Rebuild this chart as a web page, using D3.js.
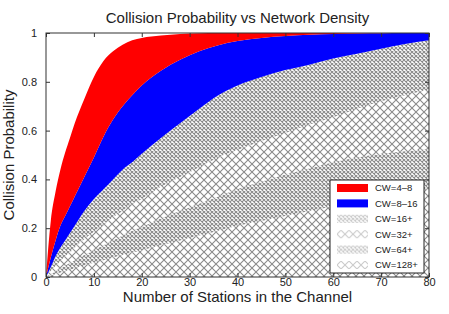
<!DOCTYPE html>
<html>
<head>
<meta charset="utf-8">
<script src="https://cdn.jsdelivr.net/npm/d3@7"></script>
<style>
  body { margin: 0; background: #fff; }
  text { font-family: "Liberation Sans", Arial, sans-serif; fill: #222; }
</style>
</head>
<body>
<div id="chart"></div>
<script>
// Number of stations (x samples)
var stations = [0, 1, 2, 3, 4, 5, 6, 8, 10, 12, 14, 16, 18, 20, 24, 28, 32, 36, 40, 45, 50, 55, 60, 65, 70, 75, 80];

// Collision probability curves, one per contention window
var cw4 = [0, 0.23, 0.35, 0.44, 0.51, 0.57, 0.63, 0.73, 0.82, 0.885, 0.925, 0.952, 0.97, 0.98, 0.99, 0.996, 0.999, 1, 1, 1, 1, 1, 1, 1, 1, 1, 1];
var cw8 = [0, 0.08, 0.15, 0.21, 0.25, 0.29, 0.33, 0.41, 0.49, 0.575, 0.645, 0.70, 0.745, 0.785, 0.845, 0.89, 0.925, 0.95, 0.967, 0.98, 0.988, 0.993, 0.996, 0.998, 0.999, 1, 1];
var cw16 = [0, 0.04, 0.085, 0.12, 0.15, 0.18, 0.21, 0.27, 0.32, 0.36, 0.40, 0.44, 0.47, 0.505, 0.57, 0.63, 0.69, 0.745, 0.785, 0.82, 0.848, 0.87, 0.895, 0.915, 0.935, 0.955, 0.97];
var cw32 = [0, 0.025, 0.045, 0.065, 0.085, 0.10, 0.12, 0.155, 0.185, 0.215, 0.245, 0.27, 0.30, 0.32, 0.37, 0.41, 0.45, 0.49, 0.52, 0.557, 0.59, 0.625, 0.655, 0.69, 0.72, 0.745, 0.768];
var cw64 = [0, 0.012, 0.024, 0.035, 0.046, 0.057, 0.068, 0.09, 0.11, 0.13, 0.15, 0.17, 0.19, 0.205, 0.24, 0.27, 0.30, 0.33, 0.36, 0.39, 0.42, 0.445, 0.47, 0.49, 0.505, 0.515, 0.525];
var cw128 = [0, 0.006, 0.012, 0.018, 0.024, 0.03, 0.036, 0.047, 0.058, 0.069, 0.08, 0.09, 0.10, 0.11, 0.13, 0.15, 0.17, 0.19, 0.21, 0.23, 0.25, 0.27, 0.29, 0.31, 0.33, 0.345, 0.36];
var zeros = stations.map(function() { return 0; });

// Bands (lower curve, upper curve) and legend labels
var bandLabels = ["CW=4\u20138", "CW=8\u201316", "CW=16+", "CW=32+", "CW=64+", "CW=128+"];
var bandLower = [cw8, cw16, cw32, cw64, cw128, zeros];
var bandUpper = [cw4, cw8, cw16, cw32, cw64, cw128];
var bandFill = ["#ff0000", "#0000ff", "url(#dense)", "url(#open)", "url(#dense)", "url(#open)"];

var xTicks = [0, 10, 20, 30, 40, 50, 60, 70, 80];
var yTicks = [0, 0.2, 0.4, 0.6, 0.8, 1];

var width = 449, height = 314;
var margin = { top: 33, right: 20, bottom: 37, left: 46 };

var svg = d3.select("#chart")
    .append("svg")
    .attr("width", width)
    .attr("height", height);

// Hatch patterns
var defs = svg.append("defs");
defs.append("pattern")
    .attr("id", "dense")
    .attr("patternUnits", "userSpaceOnUse")
    .attr("width", 4).attr("height", 4)
    .append("path")
    .attr("d", "M0,0L4,4M4,0L0,4")
    .attr("stroke", "#8a8a8a")
    .attr("stroke-width", 1.1)
    .attr("fill", "none");
defs.append("pattern")
    .attr("id", "open")
    .attr("patternUnits", "userSpaceOnUse")
    .attr("width", 8).attr("height", 8)
    .append("path")
    .attr("d", "M0,0L8,8M8,0L0,8")
    .attr("stroke", "#8a8a8a")
    .attr("stroke-width", 1.1)
    .attr("fill", "none");
defs.append("clipPath")
    .attr("id", "plotclip")
    .append("rect")
    .attr("x", margin.left).attr("y", margin.top)
    .attr("width", width - margin.left - margin.right)
    .attr("height", height - margin.top - margin.bottom);

var x = d3.scaleLinear()
    .domain([0, 80])
    .range([margin.left, width - margin.right]);

var y = d3.scaleLinear()
    .domain([0, 1])
    .range([height - margin.bottom, margin.top]);

// Filled bands, drawn bottom band first
var area = d3.area()
    .curve(d3.curveMonotoneX)
    .x(function(d) { return x(d.n); })
    .y0(function(d) { return y(d.lo); })
    .y1(function(d) { return y(d.hi); });

var plot = svg.append("g").attr("clip-path", "url(#plotclip)");
for (var b = bandLabels.length - 1; b >= 0; b--) {
    var rows = stations.map(function(n, i) {
        return { n: n, lo: bandLower[b][i], hi: bandUpper[b][i] };
    });
    plot.append("path")
        .datum(rows)
        .attr("fill", bandFill[b])
        .attr("d", area);
}

// Axes with inward ticks, mirrored on top and right
var axisColor = "#333";
var bottomAxis = svg.append("g")
    .attr("transform", "translate(0," + y(0) + ")")
    .call(d3.axisBottom(x).tickValues(xTicks).tickSize(-4).tickPadding(1).tickFormat(d3.format("d")));
var topAxis = svg.append("g")
    .attr("transform", "translate(0," + y(1) + ")")
    .call(d3.axisTop(x).tickValues(xTicks).tickSize(-4).tickFormat(""));
var leftAxis = svg.append("g")
    .attr("transform", "translate(" + x(0) + ",0)")
    .call(d3.axisLeft(y).tickValues(yTicks).tickSize(-4).tickPadding(9).tickFormat(function(d) { return d === 0 || d === 1 ? d : d3.format(".1f")(d); }));
var rightAxis = svg.append("g")
    .attr("transform", "translate(" + x(80) + ",0)")
    .call(d3.axisRight(y).tickValues(yTicks).tickSize(-4).tickFormat(""));

[bottomAxis, topAxis, leftAxis, rightAxis].forEach(function(g) {
    g.selectAll(".domain").remove();
    g.selectAll("line").attr("stroke", axisColor);
    g.selectAll("text").style("font-size", "11px").attr("fill", "#222");
});

// Frame
svg.append("rect")
    .attr("x", x(0)).attr("y", y(1))
    .attr("width", x(80) - x(0))
    .attr("height", y(0) - y(1))
    .attr("fill", "none")
    .attr("stroke", axisColor)
    .attr("stroke-width", 1);

// Title and axis labels
svg.append("text")
    .attr("x", (x(0) + x(80)) / 2)
    .attr("y", 23)
    .attr("text-anchor", "middle")
    .style("font-size", "15px")
    .text("Collision Probability vs Network Density");

svg.append("text")
    .attr("x", (x(0) + x(80)) / 2)
    .attr("y", 302)
    .attr("text-anchor", "middle")
    .style("font-size", "15px")
    .text("Number of Stations in the Channel");

svg.append("text")
    .attr("transform", "translate(14," + ((y(0) + y(1)) / 2) + ") rotate(-90)")
    .attr("text-anchor", "middle")
    .style("font-size", "15px")
    .text("Collision Probability");

// Legend
var legend = svg.append("g").attr("transform", "translate(330,180)");
legend.append("rect")
    .attr("width", 94).attr("height", 93)
    .attr("fill", "#fff")
    .attr("stroke", "#222")
    .attr("stroke-width", 1);

var rowsG = legend.selectAll(".entry")
    .data(bandLabels)
    .enter()
    .append("g")
    .attr("class", "entry")
    .attr("transform", function(d, i) { return "translate(7," + (8 + i * 15.4) + ")"; });

rowsG.append("rect")
    .attr("width", 31).attr("height", 8)
    .attr("y", -4)
    .attr("fill", function(d, i) { return bandFill[i]; })
    .attr("opacity", function(d, i) { return i < 2 ? 1 : 0.45; });

rowsG.append("text")
    .attr("x", 38)
    .attr("y", 0)
    .attr("dy", "0.35em")
    .style("font-size", "9.5px")
    .text(function(d) { return d; });
</script>
</body>
</html>
